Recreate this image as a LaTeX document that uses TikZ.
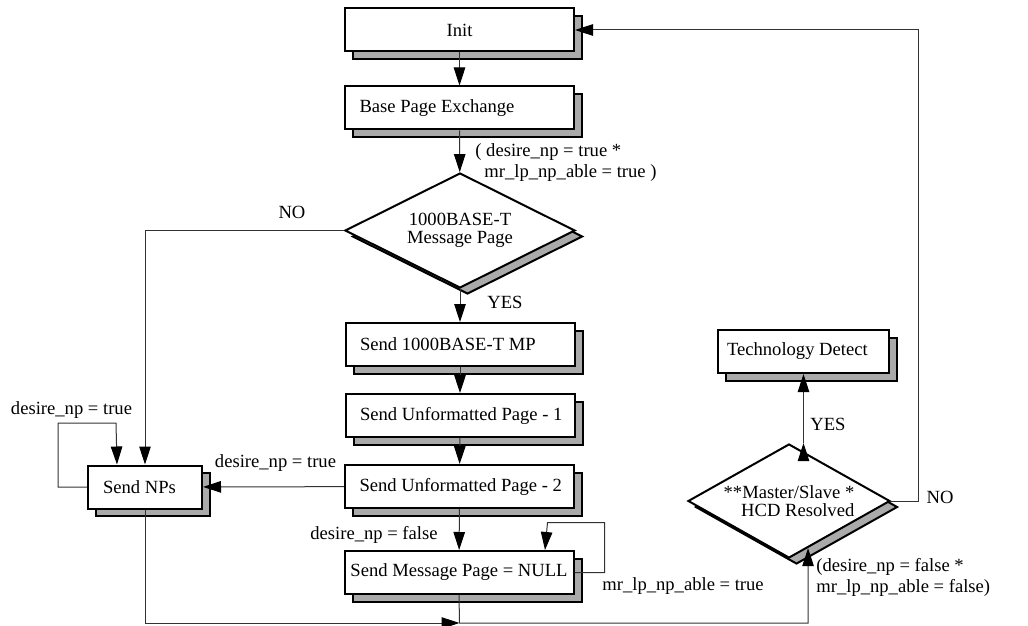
\documentclass[tikz,border=0pt]{standalone}
\usepackage{fontspec}
\setmainfont{Liberation Serif}
\usepackage{tikz}
\usetikzlibrary{arrows.meta,shapes.geometric,shadows}
\newcommand\ltxt[2][100pt]{\makebox[#1][l]{#2}}
\definecolor{shadow_gray}{RGB}{170,170,170}
\definecolor{line_gray}{RGB}{50,50,50}

\begin{document}
\begin{tikzpicture}[->,>={Triangle[length=9pt,width=5.75pt,color=black]},x=0.5pt,y=-0.5pt,
    font=\fontsize{9.3}{10.5}\selectfont]
    \tikzstyle{box}=[draw=black,line width=1pt,fill=white,rectangle,minimum width=114.5pt,minimum height=21.5pt,inner xsep=2pt,
        copy shadow={shadow xshift=4pt,shadow yshift=-3.75pt,fill=shadow_gray,draw=black,line width=1pt}]
    \tikzstyle{lbox}=[style=box,inner xsep=7pt]
    \tikzstyle{cond}=[draw=black,line width=1pt,fill=white,diamond,inner sep=0pt,
        copy shadow={shadow xshift=3.75pt,shadow yshift=-3pt,fill=shadow_gray,draw=black,line width=1pt}]
    \tikzstyle{lbl}=[inner sep=1pt,text=black]
    \tikzstyle{conn}=[draw=line_gray,line width=0.5pt]
    \useasboundingbox (0,0) rectangle (1028,626);

    % main column
    \node[box]  (init) at (459.5,30)  {Init};
    \node[lbox] (base) at (459.5,108) {\ltxt{Base Page Exchange}};
    \node[cond,minimum width=115pt,minimum height=57.5pt,
          label={[align=center]center:{1000BASE-T\\[-1.5pt]Message Page}}] (mpage) at (460,230.5) {};
    \node[lbox] (sendmp)  at (460,344.5)   {\ltxt{Send 1000BASE-T MP}};
    \node[lbox] (sendup1) at (460,415.5)   {\ltxt{Send Unformatted Page - 1}};
    \node[lbox] (sendup2) at (459.5,486.5) {\ltxt{Send Unformatted Page - 2}};
    \node[box]  (sendnull) at (459,572.5)  {Send Message Page = NULL};

    % left and right
    \node[lbox,inner xsep=7.5pt,minimum width=57pt] (sendnp) at (145,487) {\ltxt[42pt]{Send NPs}};
    \node[lbox,inner xsep=4.5pt,minimum width=85.5pt] (techdet) at (803.5,351.5) {\ltxt[76.5pt]{Technology Detect}};
    \node[cond,minimum width=101pt,minimum height=57pt,
          label={[align=right]center:{**Master/Slave *\\[-1.5pt]HCD Resolved}}] (msres) at (789,501) {};

    % labels
    \node[lbl,anchor=west] (l_np1) at (473,163)
        {\begin{tabular}{@{}l@{}}( desire\_np = true *\\\hspace*{4.5pt}mr\_lp\_np\_able = true )\end{tabular}};
    \node[lbl] (l_no1)  at (292,212) {NO};
    \node[lbl] (l_yes1) at (505,302) {YES};
    \node[lbl] (l_np2)  at (71.5,410) {desire\_np = true};
    \node[lbl] (l_np3)  at (275.5,463) {desire\_np = true};
    \node[lbl,anchor=east] (l_np4) at (440,535) {desire\_np = false};
    \node[lbl,anchor=west] (l_lp1) at (600,586) {mr\_lp\_np\_able = true};
    \node[lbl,anchor=west] (l_yes2) at (808,424) {YES};
    \node[lbl] (l_no2)  at (940,497) {NO};
    \node[lbl,anchor=west,align=left] (l_np5) at (814,577) {(desire\_np = false *\\mr\_lp\_np\_able = false)};

    \coordinate (join) at (459.5,623);

    \path[conn]
     (init) edge (base)
     (base) edge (mpage)
     (mpage) edge (sendmp)
     (sendmp) edge (sendup1)
     (sendup1) edge (sendup2)
     (sendup2) edge (sendnull)
     (sendup2) edge (sendnp)
     (msres.north -| techdet.south) edge (techdet)
     ;
    \draw[conn] (mpage.west) -| (sendnp);
    \draw[conn] (sendnp.west) -- ++(-29,0) |- ++(58,-64) -- ([xshift=-14pt]sendnp.north);
    \draw[conn] (sendnull.east) -- ++(30,0) |- ++(-57,-50) -- ([xshift=43pt]sendnull.north);
    \draw[conn] (sendnp.south) |- (join);
    \draw[conn] (sendnull.south) -- (join) -| (msres.-68);
    \draw[conn] (msres.east) -- ++(27,0) |- (init.east);
\end{tikzpicture}
\end{document}
